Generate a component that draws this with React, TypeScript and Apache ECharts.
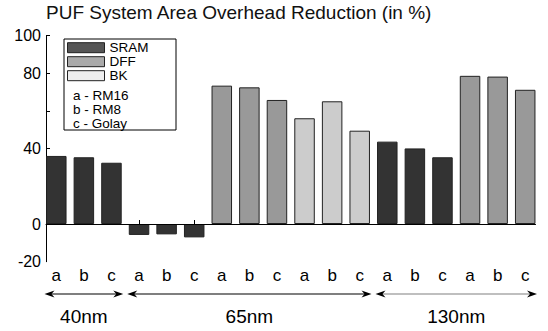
import React, { useEffect, useRef } from "react";
import * as echarts from "echarts";

// ---- data ----
const positions = [1, 2, 3, 4, 5, 6, 7, 8, 9, 10, 11, 12, 13, 14, 15, 16, 17, 18];
const tickLabels = ["a", "b", "c", "a", "b", "c", "a", "b", "c", "a", "b", "c", "a", "b", "c", "a", "b", "c"];
const sramValues: (number | null)[] = [36.1, 35.4, 32.5, -5.8, -5.5, -7.1, null, null, null, null, null, null, 43.7, 40.1, 35.4, null, null, null];
const dffValues: (number | null)[] = [null, null, null, null, null, null, 73.4, 72.5, 65.8, null, null, null, null, null, null, 78.6, 78.2, 71.2];
const bkValues: (number | null)[] = [null, null, null, null, null, null, null, null, null, 56.1, 65.1, 49.5, null, null, null, null, null, null];
const yLabelValues = [-20, 0, 40, 80, 100];
const yTickValues = [40, 60, 80, 100];
const xTickPositions = [2, 4, 6, 8, 10, 12, 14, 16, 18];
const groupNames = ["40nm", "65nm", "130nm"];
const groupFrom = [1, 4, 13];
const groupTo = [3, 12, 18];
const legendNotes = ["a - RM16", "b - RM8", "c - Golay"];

const FONT = "Liberation Sans, Arial, sans-serif";

function pairs(vals: (number | null)[]) {
  const out: [number, number][] = [];
  vals.forEach((v, i) => {
    if (v !== null) out.push([positions[i], v]);
  });
  return out;
}

function arrowHead(x: number, y: number, dir: number, color: string) {
  // dir = -1 points left, +1 points right
  return {
    type: "polygon",
    silent: true,
    z: 10,
    shape: {
      points: [
        [x, y],
        [x - dir * 10, y - 3.5],
        [x - dir * 7, y],
        [x - dir * 10, y + 3.5],
      ],
    },
    style: { fill: color },
  };
}

export default function App() {
  const ref = useRef<HTMLDivElement>(null);

  useEffect(() => {
    if (!ref.current) return;
    const chart = echarts.init(ref.current, null, { renderer: "svg" });
    const barStyle = (color: string) => ({
      color,
      borderColor: "#222",
      borderWidth: 1,
    });
    chart.setOption({
      animation: false,
      title: {
        text: "PUF System Area Overhead Reduction (in %)",
        left: 46,
        top: 3,
        padding: 0,
        textStyle: { fontFamily: FONT, fontSize: 19, fontWeight: "normal", color: "#111" },
      },
      grid: { left: 46, right: 12.5, top: 35.5, bottom: 69.3, outerBoundsMode: "none" },
      legend: {
        orient: "vertical",
        left: 67,
        top: 40.7,
        padding: 0,
        itemWidth: 37,
        itemHeight: 10,
        itemGap: 0,
        itemTextGap: 3,
        icon: "rect",
        textStyle: { fontFamily: FONT, fontSize: 13.5, lineHeight: 14, color: "#000" },
        data: [
          { name: "SRAM", itemStyle: { color: "#555", borderColor: "#222", borderWidth: 1 } },
          { name: "DFF", itemStyle: { color: "#aaa", borderColor: "#222", borderWidth: 1 } },
          { name: "BK", itemStyle: { color: "#eee", borderColor: "#222", borderWidth: 1 } },
        ],
        selectedMode: false,
        z: 6,
      },
      xAxis: {
        type: "value",
        min: 0.627,
        max: 18.373,
        splitLine: { show: false },
        axisLine: { show: true, lineStyle: { color: "#000", width: 1 } },
        axisTick: {
          show: true,
          inside: true,
          length: 4,
          customValues: xTickPositions,
          lineStyle: { color: "#000" },
        },
        axisLabel: {
          customValues: positions,
          formatter: (v: number) => tickLabels[Math.round(v) - 1] ?? "",
          fontFamily: FONT,
          fontSize: 17,
          color: "#000",
          margin: 5,
        },
      },
      yAxis: {
        type: "value",
        min: -20,
        max: 100,
        interval: 20,
        splitLine: { show: false },
        axisLine: { show: true, lineStyle: { color: "#000", width: 1 } },
        axisTick: {
          show: true,
          inside: true,
          length: 4,
          customValues: yTickValues,
          lineStyle: { color: "#000" },
        },
        axisLabel: {
          customValues: yLabelValues,
          fontFamily: FONT,
          fontSize: 16,
          color: "#000",
          margin: 5,
        },
      },
      series: [
        {
          name: "SRAM",
          type: "bar",
          stack: "all",
          barWidth: 20.5,
          data: pairs(sramValues),
          itemStyle: barStyle("#333333"),
          markLine: {
            silent: true,
            symbol: "none",
            label: { show: false },
            lineStyle: { color: "#000", type: "solid", width: 1 },
            data: [{ yAxis: 0 }],
          },
        },
        {
          name: "DFF",
          type: "bar",
          stack: "all",
          barWidth: 20.5,
          data: pairs(dffValues),
          itemStyle: barStyle("#999999"),
        },
        {
          name: "BK",
          type: "bar",
          stack: "all",
          barWidth: 20.5,
          data: pairs(bkValues),
          itemStyle: barStyle("#cccccc"),
        },
      ],
    });

    // annotations: legend box, notes, group arrows
    const graphics: any[] = [];
    graphics.push({
      type: "rect",
      z: 1,
      silent: true,
      shape: { x: 64, y: 39, width: 112, height: 91 },
      style: { fill: "#fff", stroke: "#000", lineWidth: 1 },
    });
    legendNotes.forEach((t, i) => {
      graphics.push({
        type: "text",
        z: 7,
        silent: true,
        x: 73,
        y: 95 + i * 14,
        style: { text: t, fontFamily: FONT, fontSize: 13.5, fill: "#000", verticalAlign: "middle", align: "left" },
      });
    });
    const arrowY = 294;
    groupNames.forEach((name, i) => {
      const xl = (chart.convertToPixel({ xAxisIndex: 0 }, groupFrom[i] - 0.5) as number) + 2;
      const xr = (chart.convertToPixel({ xAxisIndex: 0 }, groupTo[i] + 0.5) as number) - 2;
      const lineColor = i === 2 ? "#808080" : "#000";
      graphics.push({
        type: "line",
        silent: true,
        z: 9,
        shape: { x1: xl + 6, y1: arrowY, x2: xr - 6, y2: arrowY },
        style: { stroke: lineColor, lineWidth: 1.2 },
      });
      graphics.push(arrowHead(xl, arrowY, -1, "#000"));
      graphics.push(arrowHead(xr, arrowY, 1, "#000"));
      graphics.push({
        type: "text",
        silent: true,
        z: 9,
        x: (xl + xr) / 2,
        y: 316,
        style: { text: name, fontFamily: FONT, fontSize: 19, fill: "#000", align: "center", verticalAlign: "middle" },
      });
    });
    chart.setOption({ graphic: graphics });

    return () => chart.dispose();
  }, []);

  return (
    <div
      ref={ref}
      style={{ position: "fixed", left: 0, top: 0, width: 548, height: 331, background: "#fff" }}
    />
  );
}
